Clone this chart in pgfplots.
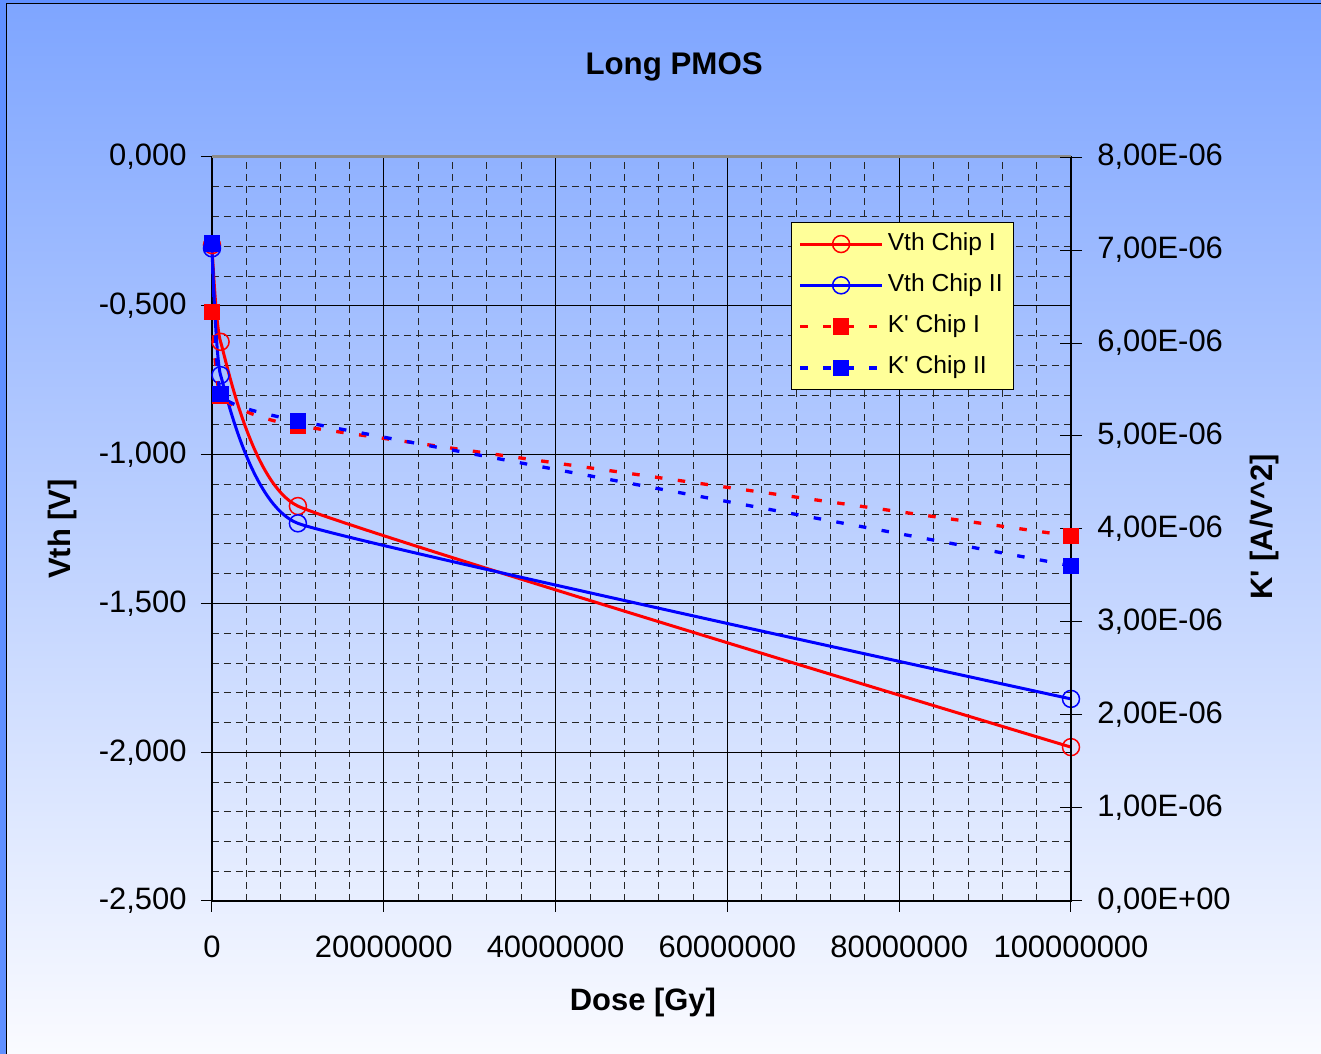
\documentclass[border=0pt]{standalone}
\usepackage{fontspec}
\setmainfont{Liberation Sans}
\usepackage{pgfplots}
\pgfplotsset{compat=1.18}

\definecolor{bgtop}{RGB}{126,165,255}
\definecolor{bgbot}{RGB}{250,251,255}
\definecolor{legfill}{RGB}{255,255,153}
\definecolor{frameblue}{RGB}{96,144,255}
\definecolor{topline}{RGB}{140,140,140}

\pgfplotsset{
  chart frame/.style={
    at={(21.2mm,15.3mm)}, anchor=south west,
    scale only axis, width=85.9mm, height=74.4mm,
    xmin=0, xmax=100000000, clip=false,
    scaled x ticks=false, scaled y ticks=false,
  },
  vthI/.style={red, line width=0.3mm, smooth, tension=0.2, mark=o,
    mark size=0.85mm, mark options={line width=0.15mm}},
  vthII/.style={blue, line width=0.3mm, smooth, tension=0.2, mark=o,
    mark size=0.85mm, mark options={line width=0.15mm}},
  kI/.style={red, line width=0.33mm, dash pattern=on 0.75mm off 1.55mm,
    smooth, tension=0.2, mark=square*, mark size=0.65mm,
    mark options={solid, fill=red}},
  kII/.style={blue, line width=0.33mm, dash pattern=on 0.75mm off 1.55mm,
    smooth, tension=0.2, mark=square*, mark size=0.65mm,
    mark options={solid, fill=blue}},
}

\begin{document}
\begin{tikzpicture}
\useasboundingbox (0,0) rectangle (132.1mm,105.4mm);
\shade[top color=bgtop, bottom color=bgbot] (0,0) rectangle (132.1mm,105.4mm);
% chart-area border
\fill[frameblue] (0,0) rectangle (0.6mm,105.4mm);
\fill[frameblue] (0,105.1mm) rectangle (132.1mm,105.4mm);
\draw[black, line width=0.12mm] (0.66mm,0) -- (0.66mm,105.04mm) -- (132.1mm,105.04mm);

% threshold voltage (left axis)
\begin{axis}[
  chart frame,
  ymin=-2.5, ymax=0,
  xtick={0,20000000,40000000,60000000,80000000,100000000},
  xticklabels={0,20000000,40000000,60000000,80000000,100000000},
  ytick={-2.5,-2,-1.5,-1,-0.5,0},
  yticklabels={{-2,500},{-2,000},{-1,500},{-1,000},{-0,500},{0,000}},
  minor x tick num=4, minor y tick num=4,
  grid=both,
  major grid style={black, line width=0.1mm},
  minor grid style={black!85, line width=0.08mm, dash pattern=on 0.7mm off 0.5mm},
  xtick pos=left, ytick pos=left,
  tick align=outside, major tick length=1.1mm, minor tick length=0pt,
  tick style={black, line width=0.1mm},
  axis line style={black, line width=0.12mm},
  /pgf/number format/assume math mode=true,
  ticklabel style={font=\fontsize{8.8}{10}\selectfont},
  xticklabel style={yshift=-1.1mm},
  yticklabel style={xshift=-0.2mm},
  title={Long PMOS},
  title style={font=\bfseries\fontsize{8.9}{10}\selectfont, at={(0.538,1.0927)}, anchor=center},
  xlabel={Dose [Gy]},
  xlabel style={font=\bfseries\fontsize{8.8}{10}\selectfont, at={(0.5017,-0.137)}, anchor=center},
  ylabel={Vth [V]},
  ylabel style={font=\bfseries\fontsize{8.8}{10}\selectfont, at={(-0.1735,0.5)}, anchor=center},
]
\draw[topline, line width=0.3mm] (rel axis cs:0,1) -- (rel axis cs:1,1);
\addplot[vthI] coordinates {(0,-0.296) (1000000,-0.621) (10000000,-1.173) (100000000,-1.983)};
\addplot[vthII] coordinates {(0,-0.307) (1000000,-0.733) (10000000,-1.231) (100000000,-1.821)};
\end{axis}

% transconductance parameter (right axis)
\begin{axis}[
  chart frame,
  ymin=0, ymax=0.000008,
  axis x line=none, axis y line*=right,
  axis line style={-, black, line width=0.12mm},
  ytick={0,0.000001,0.000002,0.000003,0.000004,0.000005,0.000006,0.000007,0.000008},
  yticklabels={{0,00E+00},{1,00E-06},{2,00E-06},{3,00E-06},{4,00E-06},{5,00E-06},{6,00E-06},{7,00E-06},{8,00E-06}},
  tick align=center, major tick length=2.2mm,
  tick style={black, line width=0.1mm},
  /pgf/number format/assume math mode=true,
  ticklabel style={font=\fontsize{8.8}{10}\selectfont},
  yticklabel style={xshift=0.3mm},
  ylabel={K\textquotesingle{} [A/V\textasciicircum{}2]},
  ylabel style={font=\bfseries\fontsize{8.8}{10}\selectfont, at={(1.2258,0.503)}, anchor=center},
  legend style={at={(0.674,0.9126)}, anchor=north west, draw=black, line width=0.1mm,
    fill=legfill, font=\fontsize{7}{8}\selectfont, inner xsep=0.7mm, inner ysep=0.65mm,
    row sep=1.13mm, nodes={inner sep=0.4mm, text height=1.7mm, text depth=0.5mm}},
  legend cell align=left,
  legend image code/.code={\draw[mark repeat=2,mark phase=2] plot coordinates {(0mm,0mm) (4.1mm,0mm) (8.2mm,0mm)};},
]
\addlegendimage{vthI}
\addlegendentry{Vth Chip I}
\addlegendimage{vthII}
\addlegendentry{Vth Chip II}
\addplot[kI] coordinates {(0,6.33e-6) (1000000,5.43e-6) (10000000,5.11e-6) (100000000,3.925e-6)};
\addlegendentry{K\textquotesingle{} Chip I}
\addplot[kII] coordinates {(0,7.07e-6) (1000000,5.45e-6) (10000000,5.163e-6) (100000000,3.605e-6)};
\addlegendentry{K\textquotesingle{} Chip II}
\end{axis}
\end{tikzpicture}
\end{document}
